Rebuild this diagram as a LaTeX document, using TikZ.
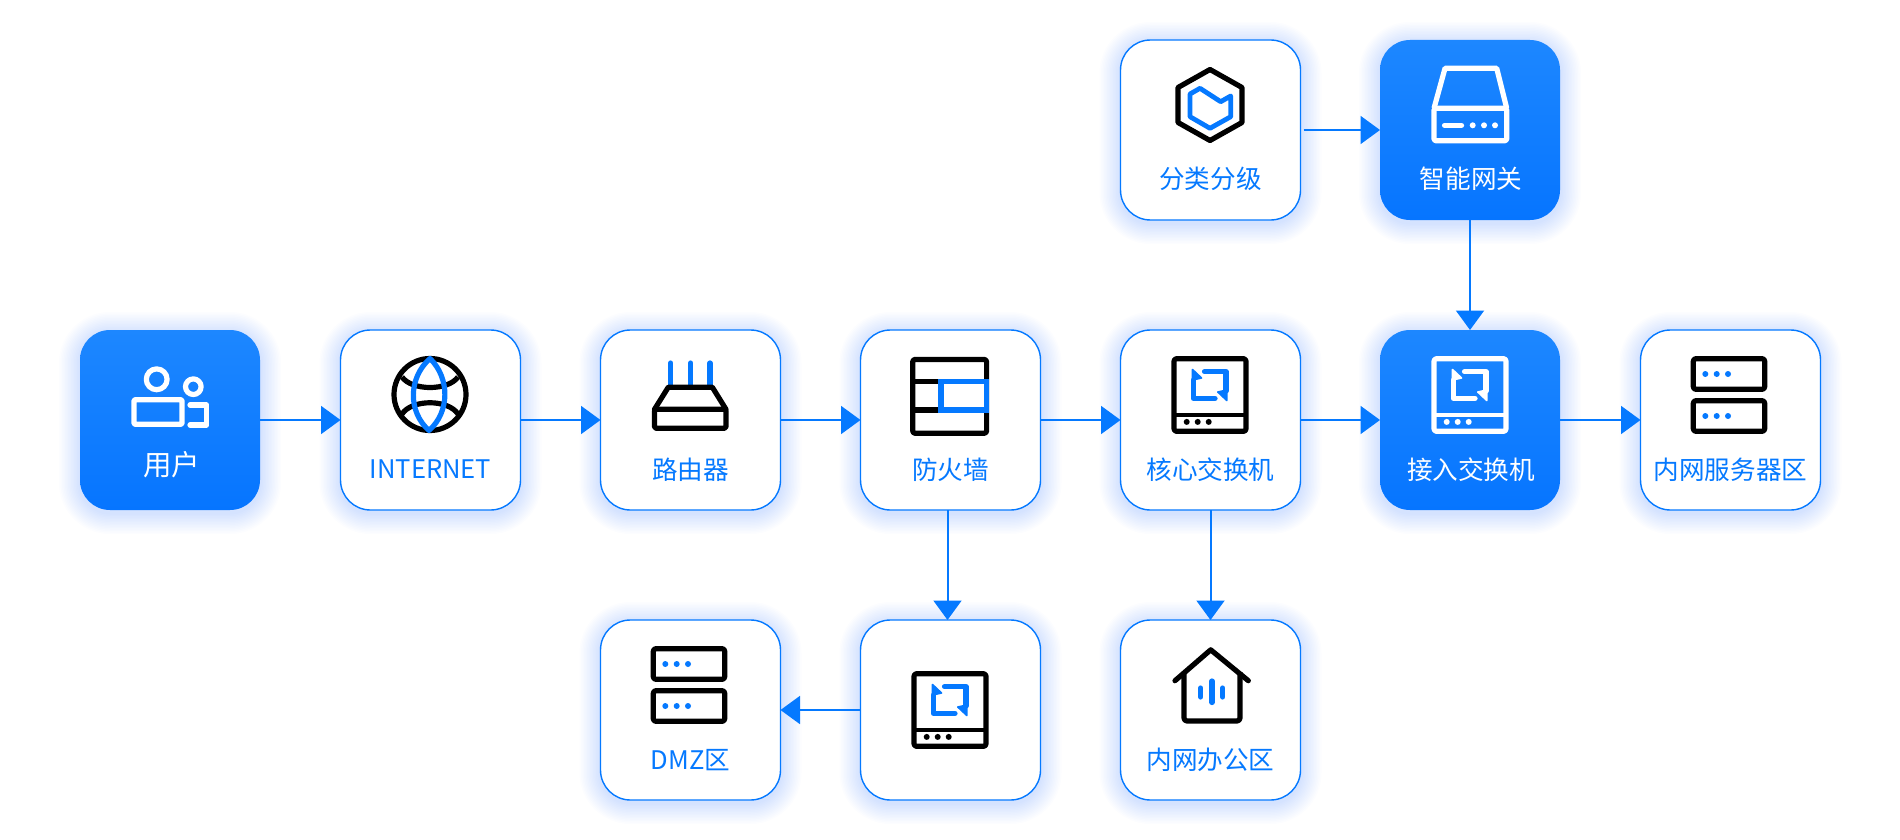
\documentclass[tikz,border=0pt]{standalone}
\usepackage{fontspec}
\newfontfamily\cjk{Noto Sans CJK SC}
\usetikzlibrary{arrows.meta}
\definecolor{bl}{HTML}{0579FF}
\definecolor{bltop}{HTML}{1D87FF}
\definecolor{blbot}{HTML}{0675FF}
\tikzset{
  x=1pt,y=-1pt,
  whitebox/.style={rectangle,draw=bl,line width=1.4pt,fill=white,minimum size=180pt,inner sep=0pt,outer sep=0pt,rounded corners=30pt},
  bluebox/.style={rectangle,top color=bltop,bottom color=blbot,draw=none,minimum size=180pt,inner sep=0pt,outer sep=0pt,rounded corners=30pt},
  lab/.style={font=\cjk\fontsize{25.6}{30}\selectfont,text=bl,inner sep=0pt},
  labw/.style={lab,text=white},
  arr/.style={draw=bl,line width=2pt,-{Triangle[length=19.5pt,width=28pt,fill=bl]}},
  ic/.style={line width=5.2pt,line join=round,line cap=butt},
  icr/.style={ic,line cap=round},
}
% soft halo behind each box
\newcommand{\halo}[2]{%
  \foreach \e in {1,...,14}{%
    \pgfmathsetmacro{\ee}{1.5*\e}%
    \pgfmathsetmacro{\rr}{30+\ee}%
    \fill[bl,opacity=0.0105,rounded corners=\rr pt] (#1-90-\ee,#2-90-\ee+3) rectangle (#1+90+\ee,#2+90+\ee+3);
  }}
\newcommand{\boxn}[4]{\halo{#2}{#3}\node[#4] (#1) at (#2,#3) {};}
\newcommand{\iconSwitch}[2]{%
  \draw[ic,#1,rounded corners=2.5pt] (54,28.7) rectangle (126,101.3);
  \draw[ic,#1,line width=4pt] (54,84.7) -- (126,84.7);
  \fill[#1] (66.7,91.9) circle (3) (77.7,91.9) circle (3) (88.7,91.9) circle (3);
  \draw[ic,#2,line cap=round] (84.5,41.7) -- (106,41.7) -- (106,61);
  \draw[ic,#2,line cap=round] (73.3,50) -- (73.3,68.3) -- (95,68.3);
  \fill[#2,draw=#2,line width=1.6pt,line join=round] (72.5,39.5) -- (81.5,48) -- (72.5,50) -- cycle;
  \fill[#2,draw=#2,line width=1.6pt,line join=round] (106.8,70.5) -- (97.8,62) -- (106.8,60) -- cycle;
}
\newcommand{\iconServer}{%
  \draw[ic,black,rounded corners=2.5pt] (53.3,28.7) rectangle (124.7,59.3);
  \draw[ic,black,rounded corners=2.5pt] (53.3,70.7) rectangle (124.7,101.3);
  \fill[bl] (65.3,44) circle (3) (76.7,44) circle (3) (88,44) circle (3);
  \fill[bl] (65.3,86) circle (3) (76.7,86) circle (3) (88,86) circle (3);
}
\begin{document}
\begin{tikzpicture}
\useasboundingbox (0,0) rectangle (1900,840);
\fill[white] (0,0) rectangle (1900,840);

% boxes
\boxn{user}{170}{420}{bluebox}
\boxn{inet}{430.5}{420}{whitebox}
\boxn{router}{690.5}{420}{whitebox}
\boxn{fw}{950.5}{420}{whitebox}
\boxn{core}{1210.5}{420}{whitebox}
\boxn{access}{1470}{420}{bluebox}
\boxn{srv}{1730.5}{420}{whitebox}
\boxn{cls}{1210.5}{130}{whitebox}
\boxn{gw}{1470}{130}{bluebox}
\boxn{dmz}{690.5}{710}{whitebox}
\boxn{sw}{950.5}{710}{whitebox}
\boxn{office}{1210.5}{710}{whitebox}

% labels
\node[labw,font=\cjk\fontsize{28.5}{30}\selectfont] (tuser) at ([xshift=1.5pt,yshift=-45pt]user.center) {用户};
\node[lab] (tinet) at ([yshift=-49pt]inet.center) {INTERNET};
\node[lab] (trouter) at ([yshift=-50pt]router.center) {路由器};
\node[lab] (tfw) at ([yshift=-50pt]fw.center) {防火墙};
\node[lab] (tcore) at ([yshift=-50pt]core.center) {核心交换机};
\node[labw] (taccess) at ([xshift=1pt,yshift=-50pt]access.center) {接入交换机};
\node[lab] (tsrv) at ([yshift=-50pt]srv.center) {内网服务器区};
\node[lab] (tcls) at ([yshift=-49pt]cls.center) {分类分级};
\node[labw] (tgw) at ([xshift=1pt,yshift=-49pt]gw.center) {智能网关};
\node[lab] (tdmz) at ([yshift=-50pt]dmz.center) {DMZ区};
\node[lab] (toffice) at ([yshift=-50pt]office.center) {内网办公区};

% connectors
\draw[arr] (user.east) -- (inet.west);
\draw[arr] (inet.east) -- (router.west);
\draw[arr] (router.east) -- (fw.west);
\draw[arr] (fw.east) -- (core.west);
\draw[arr] (core.east) -- (access.west);
\draw[arr] (access.east) -- (srv.west);
\draw[arr] ([xshift=3pt]cls.east) -- (gw.west);
\draw[arr] (gw.south) -- (access.north);
\draw[arr] ([xshift=-3pt]fw.south) -- ([xshift=-3pt]sw.north);
\draw[arr] (core.south) -- (office.north);
\draw[arr] (sw.west) -- (dmz.east);

% user icon
\begin{scope}[shift={(80,330)}]
  \draw[ic,white] (76.7,49.3) circle (10.4);
  \draw[ic,white] (113.3,56.7) circle (7.8);
  \draw[ic,white,rounded corners=1pt] (54,69.7) rectangle (102,94.3);
  \draw[ic,white,line cap=round] (110,75) -- (126.7,75) -- (126.7,95) -- (110,95);
\end{scope}

% globe icon
\begin{scope}[shift={(340,330)}]
  \draw[ic,black] (90,64.5) circle (36);
  \draw[ic,black] (62,47) .. controls (72,61) and (108,61) .. (118,47);
  \draw[ic,black] (62,84) .. controls (72,69) and (108,69) .. (118,84);
  \draw[ic,bl] (90,28.5) .. controls (68,48) and (68,82) .. (89,100.5) .. controls (110,82) and (110,48) .. (90,28.5) -- cycle;
\end{scope}

% router icon
\begin{scope}[shift={(600,330)}]
  \draw[icr,bl] (70.7,33) -- (70.7,55) (90.7,33) -- (90.7,55) (110,33) -- (110,55);
  \draw[ic,black,line cap=round] (54.5,79.3) -- (68.3,57.2) -- (112.3,57.2) -- (126,79.3);
  \draw[ic,black,rounded corners=1.5pt] (54.5,79.3) rectangle (126,98.3);
\end{scope}

% firewall icon
\begin{scope}[shift={(860,330)}]
  \draw[ic,black] (52.7,51.7) -- (85,51.7) (52.7,80) -- (85,80);
  \draw[ic,black,rounded corners=2.5pt] (52.7,29.4) rectangle (126.6,103.3);
  \draw[ic,bl,line join=miter] (81,51.7) rectangle (126.6,80);
\end{scope}

% switches
\begin{scope}[shift={(1120,330)}]\iconSwitch{black}{bl}\end{scope}
\begin{scope}[shift={(1380,330)}]\iconSwitch{white}{white}\end{scope}
\begin{scope}[shift={(860,645)}]\iconSwitch{black}{bl}\end{scope}

% servers
\begin{scope}[shift={(1640,330)}]\iconServer\end{scope}
\begin{scope}[shift={(600,620)}]\iconServer\end{scope}

% hexagon icon
\begin{scope}[shift={(1120,40)}]
  \draw[ic,black] (90,29.5) -- (122,47.5) -- (122,82.5) -- (90,100.5) -- (58,82.5) -- (58,47.5) -- cycle;
  \draw[ic,bl,line width=4.8pt] (80,48.3) -- (100.7,61.7) -- (110.7,56) -- (110.7,76.7) -- (90,88.3) -- (70,76.7) -- (70,54) -- cycle;
\end{scope}

% gateway icon
\begin{scope}[shift={(1380,40)}]
  \draw[ic,white] (54,68.3) -- (65,28.3) -- (116.7,28.3) -- (126.7,68.3);
  \draw[ic,white,rounded corners=1.5pt] (54,68.3) rectangle (126.7,100.7);
  \draw[icr,white] (64.5,85.3) -- (81.5,85.3);
  \fill[white] (92.7,85.3) circle (3) (104,85.3) circle (3) (115,85.3) circle (3);
\end{scope}

% home icon
\begin{scope}[shift={(1120,620)}]
  \draw[icr,black] (55,60.7) -- (90.7,29.8) -- (128.3,60.7);
  \draw[ic,black,rounded corners=3pt] (64,52) -- (64,101) -- (120,101) -- (120,52);
  \draw[icr,bl] (80.7,68) -- (80.7,77) (92,61) -- (92,82.5) (102.7,68) -- (102.7,77);
\end{scope}
\end{tikzpicture}
\end{document}
